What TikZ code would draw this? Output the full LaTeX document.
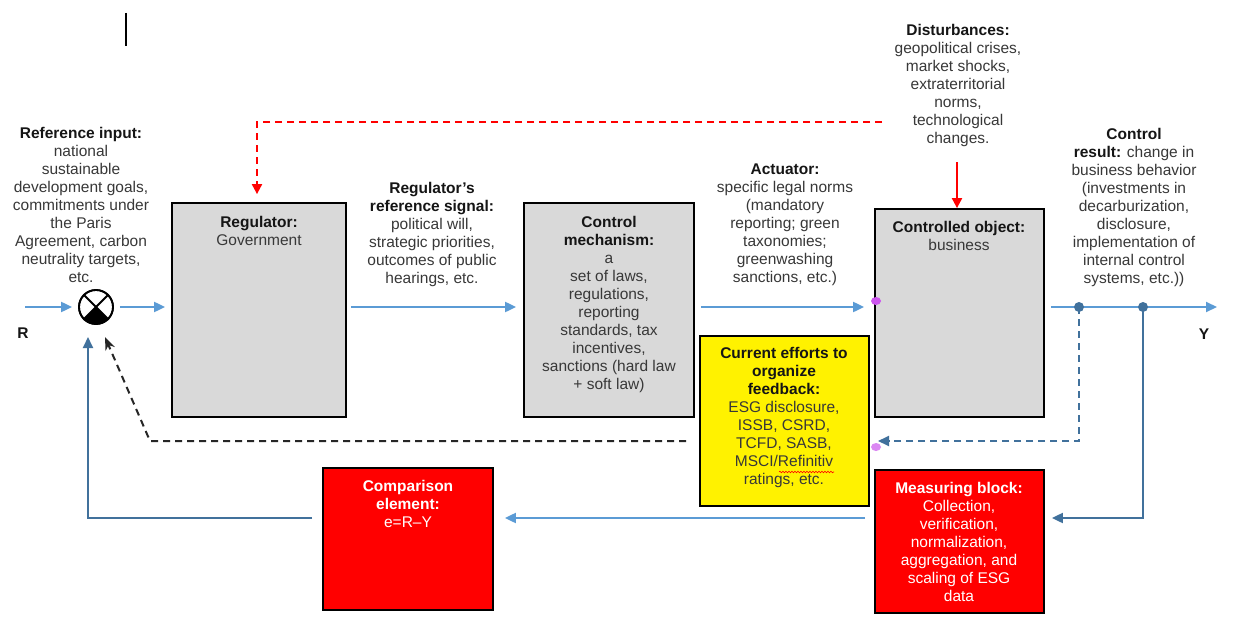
\documentclass[tikz,border=0pt]{standalone}
\usepackage{fontspec}
\setmainfont{Liberation Sans}
\usetikzlibrary{arrows.meta,decorations.pathmorphing,calc}
\definecolor{fwdblue}{HTML}{5B9BD5}
\definecolor{dkblue}{HTML}{41719C}
\definecolor{boxgray}{HTML}{D9D9D9}
\definecolor{txtgray}{HTML}{383838}
\definecolor{txtblack}{HTML}{151515}
\definecolor{magblob}{HTML}{CC55EE}
\newcommand\bhead[1]{{\bfseries\color{txtblack}#1}}
\begin{document}
\begin{tikzpicture}[x=1pt,y=-1pt,
  every node/.style={font=\fontsize{15.5}{18}\selectfont},
  txt/.style={align=center, inner sep=0pt, anchor=north, text=txtgray},
  whtxt/.style={align=center, inner sep=0pt, anchor=north, text=white},
  blk/.style={draw=black, line width=1.8pt, inner sep=0pt},
  graybox/.style={blk, fill=boxgray},
  redbox/.style={blk, fill=red},
  yelbox/.style={blk, fill=yellow},
  fwd/.style={draw=fwdblue, line width=2pt, -{Triangle[length=11pt,width=10pt]}},
  dk/.style={draw=dkblue, line width=2pt, -{Triangle[length=11pt,width=10pt]}},
  dkdash/.style={draw=dkblue, line width=2pt, dash pattern=on 7pt off 5pt, -{Triangle[length=11pt,width=10pt]}},
  blkdash/.style={draw=black!85, line width=2pt, dash pattern=on 7pt off 5pt, -{Stealth[length=13pt,width=10pt]}},
  reddash/.style={draw=red, line width=2pt, dash pattern=on 7pt off 5pt, -{Triangle[length=10pt,width=10pt]}},
  redarr/.style={draw=red, line width=2pt, -{Triangle[length=10pt,width=10pt]}},
  sumnode/.style={circle, draw=black, line width=1.8pt, minimum size=34pt, inner sep=0pt}
]
\useasboundingbox (0,0) rectangle (1237,626);
\fill[white] (0,0) rectangle (1237,626);

% cursor bar
\draw[line width=2pt] (126,13) -- (126,46);

% blocks
\node[graybox, minimum width=174pt, minimum height=214pt] (reg) at (259,310) {};
\node[graybox, minimum width=170pt, minimum height=214pt] (cm) at (609,310) {};
\node[graybox, minimum width=169pt, minimum height=208pt] (co) at (959.5,313) {};
\node[yelbox, minimum width=169pt, minimum height=170pt] (yel) at (784.5,421) {};
\node[redbox, minimum width=169pt, minimum height=143pt] (meas) at (959.5,541.5) {};
\node[redbox, minimum width=170pt, minimum height=142pt] (comp) at (408,539) {};

% texts
\node[txt] (reft) at (81,127) {\bhead{Reference input:}\\national\\sustainable\\development goals,\\commitments under\\the Paris\\Agreement, carbon\\neutrality targets,\\etc.};
\node[txt] (regt) at (259,216) {\bhead{Regulator:}\\Government};
\node[txt] (rst) at (432,182) {\bhead{Regulator’s}\\\bhead{reference signal:}\\political will,\\strategic priorities,\\outcomes of public\\hearings, etc.};
\node[txt] (cmt) at (609,216) {\bhead{Control}\\\bhead{mechanism:}\\a\\set of laws,\\regulations,\\reporting\\standards, tax\\incentives,\\sanctions (hard law\\+ soft law)};
\node[txt] (actt) at (785,164) {\bhead{Actuator:}\\specific legal norms\\(mandatory\\reporting; green\\taxonomies;\\greenwashing\\sanctions, etc.)};
\node[txt] (dist) at (958,24) {\bhead{Disturbances:}\\geopolitical crises,\\market shocks,\\extraterritorial\\norms,\\technological\\changes.};
\node[txt] (cot) at (959,221) {\bhead{Controlled object:}\\business};
\node[txt] (crt) at (1134,128) {\bhead{Control}\\\bhead{result:} change in\\business behavior\\(investments in\\decarburization,\\disclosure,\\implementation of\\internal control\\systems, etc.))};
\node[txt] (yelt) at (784,347) {\bhead{Current efforts to}\\\bhead{organize}\\\bhead{feedback:}\\ESG disclosure,\\ISSB, CSRD,\\TCFD, SASB,\\MSCI/Refinitiv\\ratings, etc.};
\node[whtxt] (meast) at (959,482) {\textbf{Measuring block:}\\Collection,\\verification,\\normalization,\\aggregation, and\\scaling of ESG\\data};
\node[whtxt] (compt) at (408,480) {\textbf{Comparison}\\\textbf{element:}\\e=R–Y};
\node[font=\fontsize{15.5}{18}\selectfont\bfseries, text=txtblack, inner sep=0pt] (rlab) at (23,333) {R};
\node[font=\fontsize{15.5}{18}\selectfont\bfseries, text=txtblack, inner sep=0pt] (ylab) at (1204,334) {Y};

% spell-check underline
\draw[red, line width=0.6pt, decorate, decoration={snake, amplitude=0.8pt, segment length=3pt}] (779,472) -- (834,472);

% summing junction
\node[sumnode] (sum) at (96,307) {};
\begin{scope}
  \clip (96,307) circle[radius=17pt];
  \fill[black] (sum.center) -- ($(sum.center)+(-30,30)$) -- ($(sum.center)+(30,30)$) -- cycle;
\end{scope}
\draw[line width=1.8pt] (sum.north west) -- (sum.south east);
\draw[line width=1.8pt] (sum.north east) -- (sum.south west);
\node[sumnode] at (96,307) {};

% coordinates
\coordinate (rin) at (25,307);
\coordinate (yout) at (1217,307);
\coordinate (d1) at (1079,307);
\coordinate (d2) at (1143,307);
\coordinate (lvl) at (0,518);
\coordinate (fbtip) at (878,441);
\coordinate (fbrow) at (0,441);
\coordinate (kink) at (150,441);
\coordinate (sumtip) at (105,337);
\coordinate (fbL) at (88,337);
\coordinate (rdstart) at (882,122);
\coordinate (dtop) at (957,162);

% forward path
\draw[fwd, shorten >=6pt] (rin) -- (sum.west);
\draw[fwd, shorten <=6pt, shorten >=6pt] (sum.east) -- (reg.west |- sum);
\draw[fwd, shorten <=4pt, shorten >=7pt] (reg.east |- sum) -- (cm.west |- sum);
\draw[fwd, shorten <=6pt, shorten >=10pt] (cm.east |- sum) -- (co.west |- sum);
\draw[fwd, shorten <=6pt] (co.east |- sum) -- (yout);

% feedback paths
\draw[dkdash] (d1) |- (fbtip);
\draw[dk, shorten >=7pt] (d2) |- (meas.east |- lvl);
\draw[fwd, shorten <=9pt, shorten >=11pt] (meas.west |- lvl) -- (comp.east |- lvl);
\draw[dk, shorten <=10pt] (comp.west |- lvl) -| (fbL);
\draw[blkdash, shorten <=13pt] (yel.west |- fbrow) -- (kink) -- (sumtip);
\draw[reddash] (rdstart) -| ([yshift=8pt]reg.north -| 257,0);
\draw[redarr] (dtop) -- (co.north -| dtop);

% dots
\fill[dkblue] (d1) circle[radius=5pt];
\fill[dkblue] (d2) circle[radius=5pt];

% selection blobs
\fill[magblob] (876,301) ellipse[x radius=5pt, y radius=4pt];
\fill[magblob!70] (876,447) ellipse[x radius=5pt, y radius=4pt];
\end{tikzpicture}
\end{document}
